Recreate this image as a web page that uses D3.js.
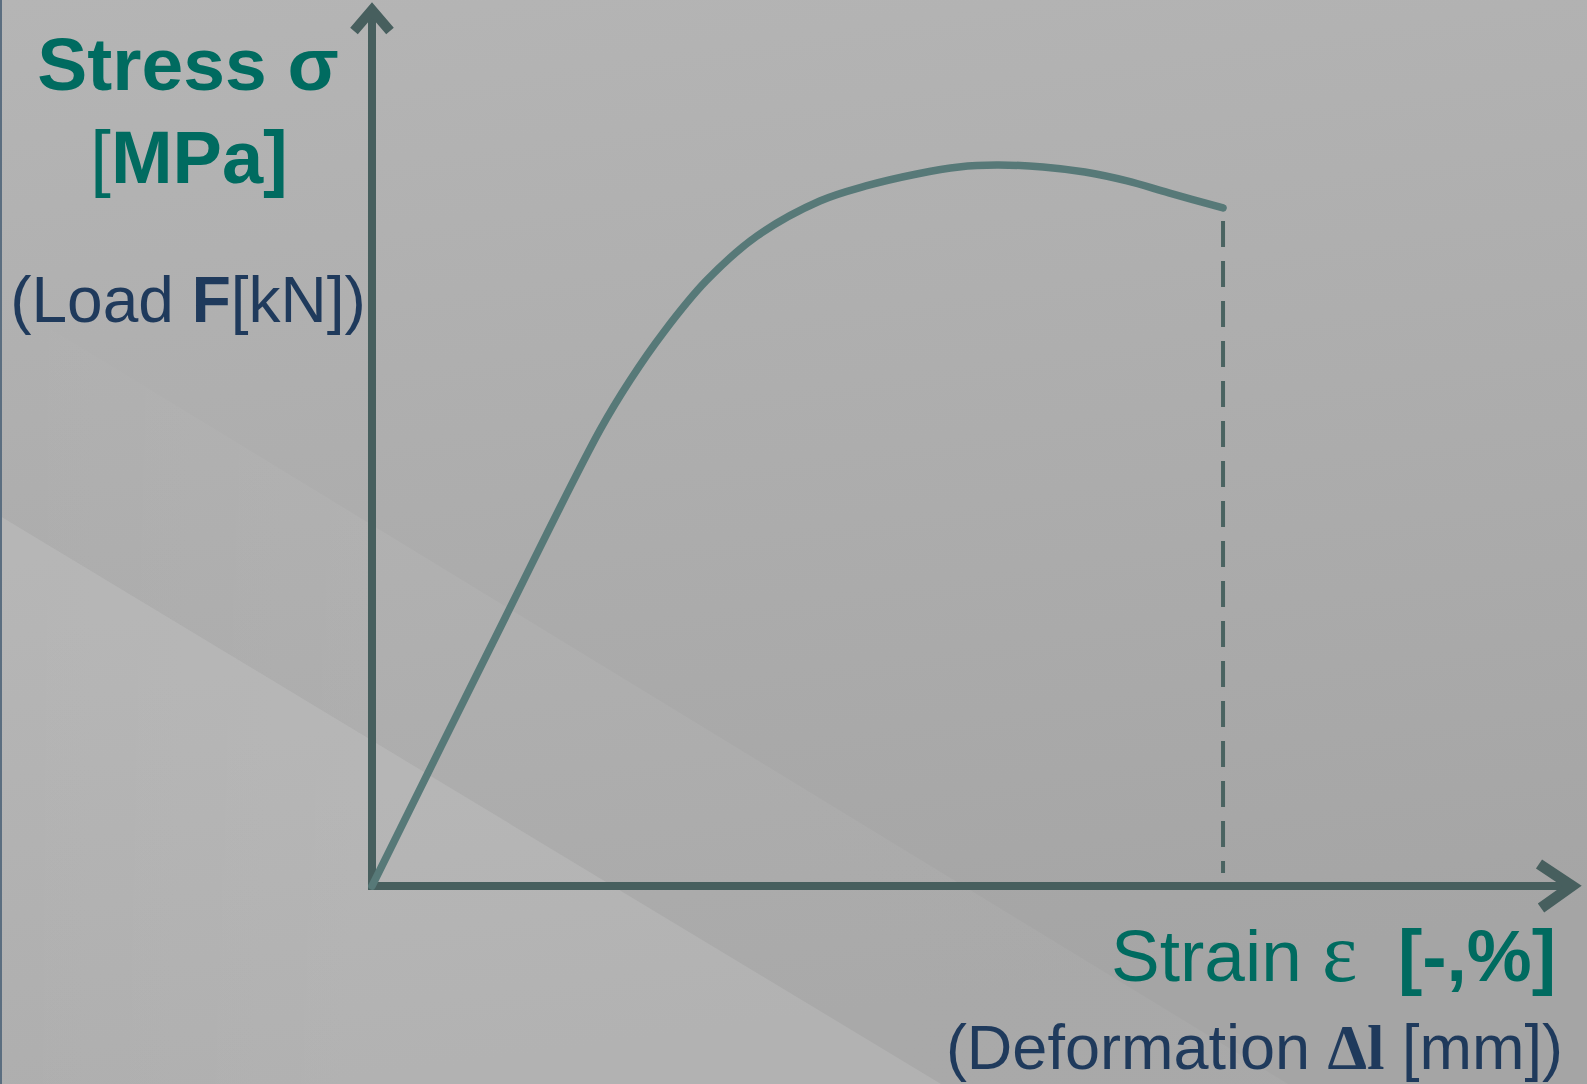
<!DOCTYPE html>
<html>
<head>
<meta charset="utf-8">
<script src="https://cdn.jsdelivr.net/npm/d3@7"></script>
<style>
  html, body { margin: 0; padding: 0; background: #b0b0b0; }
  svg { display: block; }
</style>
</head>
<body>
<div id="chart"></div>
<script>
// stress-strain sketch (no ticks, just the shape)

const width = 1587;
const height = 1084;

// strain in %, stress in MPa
const strain = [0, 2.46, 4.75, 5.38, 6.08, 6.96, 8.02, 9.33, 10.29, 11.35, 12.23, 13.02, 13.98, 14.85, 15.73, 16.60, 17.73];
const stress = [0, 163.0, 312.3, 346.6, 379.5, 414.4, 445.2, 469.2, 479.5, 487.7, 492.5, 493.8, 492.5, 489.0, 482.9, 474.7, 464.4];
const strainMax = 25;
const stressMax = 600;

const x = d3.scaleLinear().domain([0, strainMax]).range([372, 1572]);
const y = d3.scaleLinear().domain([0, stressMax]).range([886, 10]);

const axisColor = "#475f5e";
const curveColor = "#577978";
const teal = "#006b60";
const navy = "#1f3a5c";

let svg = d3.select("#chart")
    .append("svg")
    .attr("width", width)
    .attr("height", height);

const defs = svg.append("defs");
const bg = defs.append("linearGradient")
    .attr("id", "bg")
    .attr("x1", 0).attr("y1", 0)
    .attr("x2", 0.2).attr("y2", 1);
bg.append("stop").attr("offset", "0%").attr("stop-color", "#b5b5b5");
bg.append("stop").attr("offset", "100%").attr("stop-color", "#a5a5a5");

const fade = defs.append("linearGradient")
    .attr("id", "fade")
    .attr("x1", 0).attr("y1", 0)
    .attr("x2", 1).attr("y2", 0);
fade.append("stop").attr("offset", "0%").attr("stop-color", "#fff").attr("stop-opacity", 0.0);
fade.append("stop").attr("offset", "30%").attr("stop-color", "#fff").attr("stop-opacity", 0.05);
fade.append("stop").attr("offset", "100%").attr("stop-color", "#fff").attr("stop-opacity", 0.04);

svg.append("rect")
    .attr("width", width)
    .attr("height", height)
    .attr("fill", "url(#bg)");

// the two pale diagonal bands in the lower left
svg.append("path")
    .attr("d", "M0,298 L1288,1084 L0,1084 Z")
    .attr("fill", "url(#fade)");
svg.append("path")
    .attr("d", "M0,516 L941,1084 L0,1084 Z")
    .attr("fill", "#ffffff")
    .attr("fill-opacity", 0.11);

// thin frame line at the left edge
svg.append("rect")
    .attr("x", 0).attr("y", 0)
    .attr("width", 2).attr("height", height)
    .attr("fill", "#5b6e80");

// axes
const x0 = x(0), y0 = y(0);
const axes = svg.append("g")
    .attr("stroke", axisColor)
    .attr("fill", "none");

axes.append("line")
    .attr("x1", x0).attr("y1", y0 + 4)
    .attr("x2", x0).attr("y2", y.range()[1])
    .attr("stroke-width", 8);
axes.append("line")
    .attr("x1", x0 - 4).attr("y1", y0)
    .attr("x2", x.range()[1]).attr("y2", y0)
    .attr("stroke-width", 8);

const yTop = y.range()[1];
axes.append("path")
    .attr("d", `M${x0 - 18},${yTop + 21} L${x0},${yTop} L${x0 + 18},${yTop + 21}`)
    .attr("stroke-width", 10)
    .attr("stroke-linejoin", "miter");

const xEnd = x.range()[1];
axes.append("path")
    .attr("d", `M${xEnd - 33},${y0 - 22} L${xEnd},${y0} L${xEnd - 31},${y0 + 22}`)
    .attr("stroke-width", 11)
    .attr("stroke-linejoin", "miter");

// curve
const pts = strain.map((s, i) => [s, stress[i]]);
const line = d3.line()
    .x(d => x(d[0]))
    .y(d => y(d[1]))
    .curve(d3.curveCatmullRom.alpha(0.5));

svg.append("path")
    .datum(pts)
    .attr("d", line)
    .attr("fill", "none")
    .attr("stroke", curveColor)
    .attr("stroke-width", 7.5)
    .attr("stroke-linecap", "round");

// fracture drop line
const last = pts[pts.length - 1];
svg.append("line")
    .attr("x1", x(last[0])).attr("y1", y(last[1]) + 13)
    .attr("x2", x(last[0])).attr("y2", y0 - 13)
    .attr("stroke", "#4a6361")
    .attr("stroke-width", 4)
    .attr("stroke-dasharray", "26,14");

// labels
const sans = "'Liberation Sans', Arial, sans-serif";
const serif = "'Liberation Serif', 'Times New Roman', serif";

svg.append("text")
    .attr("x", 188).attr("y", 90)
    .attr("text-anchor", "middle")
    .attr("font-family", sans)
    .attr("font-size", 75)
    .attr("font-weight", "bold")
    .attr("fill", teal)
    .text("Stress σ");

let t = svg.append("text")
    .attr("x", 189).attr("y", 183)
    .attr("text-anchor", "middle")
    .attr("font-family", sans)
    .attr("font-size", 74)
    .attr("fill", teal);
t.append("tspan").text("[");
t.append("tspan").attr("font-weight", "bold").text("MPa]");

t = svg.append("text")
    .attr("x", 188).attr("y", 322)
    .attr("text-anchor", "middle")
    .attr("font-family", sans)
    .attr("font-size", 64)
    .attr("fill", navy);
t.append("tspan").text("(Load ");
t.append("tspan").attr("font-weight", "bold").text("F");
t.append("tspan").text("[kN])");

t = svg.append("text")
    .attr("x", 1556).attr("y", 981)
    .attr("text-anchor", "end")
    .attr("font-family", sans)
    .attr("font-size", 73)
    .attr("fill", teal);
t.append("tspan").text("Strain ");
t.append("tspan").attr("font-family", serif).attr("font-size", 84).text("ε");
t.append("tspan").attr("xml:space", "preserve").text("  ");
t.append("tspan").attr("font-weight", "bold").text("[-,%]");

t = svg.append("text")
    .attr("x", 1563).attr("y", 1069)
    .attr("text-anchor", "end")
    .attr("font-family", sans)
    .attr("font-size", 63)
    .attr("fill", navy);
t.append("tspan").text("(Deformation ");
t.append("tspan").attr("font-family", serif).attr("font-weight", "bold").text("Δl");
t.append("tspan").text(" [mm])");
</script>
</body>
</html>
